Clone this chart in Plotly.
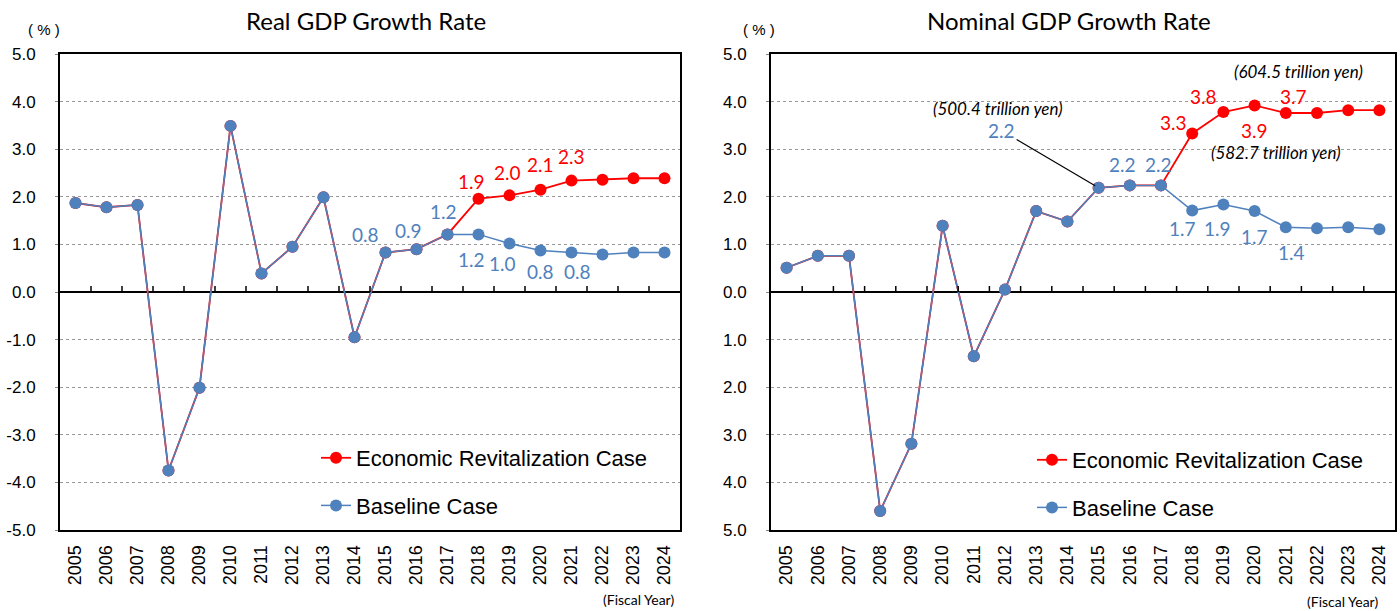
import plotly.graph_objects as go

# ---------------- data ----------------
years = [str(y) for y in range(2005, 2025)]

real_baseline = [1.87, 1.78, 1.83, -3.75, -2.01, 3.49, 0.39, 0.95, 1.99, -0.95,
                 0.83, 0.90, 1.21, 1.21, 1.02, 0.87, 0.83, 0.79, 0.83, 0.83]
real_revital = [1.87, 1.78, 1.83, -3.75, -2.01, 3.49, 0.39, 0.95, 1.99, -0.95,
                0.83, 0.90, 1.21, 1.96, 2.03, 2.15, 2.34, 2.36, 2.39, 2.39]

nominal_baseline = [0.51, 0.76, 0.76, -4.60, -3.19, 1.39, -1.35, 0.05, 1.70, 1.48,
                    2.19, 2.24, 2.24, 1.71, 1.84, 1.70, 1.36, 1.34, 1.36, 1.32]
nominal_revital = [0.51, 0.76, 0.76, -4.60, -3.19, 1.39, -1.35, 0.05, 1.70, 1.48,
                   2.19, 2.24, 2.24, 3.33, 3.78, 3.92, 3.76, 3.76, 3.82, 3.82]

# data labels (year, text)
real_rev_label_years = ["2018", "2019", "2020", "2021"]
real_rev_label_text = ["1.9", "2.0", "2.1", "2.3"]
real_base_label_years = ["2015", "2016", "2017", "2018", "2019", "2020", "2021"]
real_base_label_text = ["0.8", "0.9", "1.2", "1.2", "1.0", "0.8", "0.8"]

nom_rev_label_years = ["2018", "2019", "2020", "2021"]
nom_rev_label_text = ["3.3", "3.8", "3.9", "3.7"]
nom_base_label_years = ["2016", "2017", "2018", "2019", "2020", "2021"]
nom_base_label_text = ["2.2", "2.2", "1.7", "1.9", "1.7", "1.4"]
nom_leader_year = "2015"
nom_leader_text = "2.2"

amount_notes = ["(500.4 trillion yen)", "(604.5 trillion yen)", "(582.7 trillion yen)"]
amount_note_years = ["2015", "2020", "2020"]

y_tickvals = [5, 4, 3, 2, 1, 0, -1, -2, -3, -4, -5]
real_ticktext = ["5.0", "4.0", "3.0", "2.0", "1.0", "0.0", "-1.0", "-2.0", "-3.0", "-4.0", "-5.0"]
nominal_ticktext = ["5.0", "4.0", "3.0", "2.0", "1.0", "0.0", "1.0", "2.0", "3.0", "4.0", "5.0"]

titles = ["Real GDP Growth Rate", "Nominal GDP Growth Rate"]
series_names = ["Economic Revitalization Case", "Baseline Case"]

# ---------------- styles / positions ----------------
RED = "#FF0000"
BLUE = "#4F81BD"
W, H = 1400, 611
ML, MR, MT, MB = 60, 5, 54, 81
PW = W - ML - MR
PH = H - MT - MB

TICK_FONT = "Liberation Sans, Arial, sans-serif"
LABEL_FONT = "Lato, Carlito, Calibri, sans-serif"
LEGEND_FONT = "Liberation Sans, Arial, sans-serif"


def px_x(px):
    return (px - ML) / PW


def px_y(py):
    return (H - MB - py) / PH


d1 = px_x(680)
d2 = px_x(771)

# label pixel offsets (dx, dy) relative to the marker
real_rev_off = [(-7, -17), (-2, -23), (0, -25), (0, -24)]
real_base_off = [(-20, -18), (-8, -19), (-4, -23), (-7, 25), (-7, 20), (0, 21), (6, 19)]
nom_rev_off = [(-19, -11), (-20, -16), (0, 25), (8, -17)]
nom_base_off = [(-7, -21), (-3, -21), (-10, 18), (-6, 24), (0, 25), (6, 25)]
note_off = [(-101, -79), (44, -34), (21, -59)]

fig = go.Figure()

for i, (xa, ya, base, rev, lg) in enumerate([
        ("x", "y", real_baseline, real_revital, "legend"),
        ("x2", "y2", nominal_baseline, nominal_revital, "legend2")]):
    fig.add_trace(go.Scatter(
        x=years, y=rev, xaxis=xa, yaxis=ya, name=series_names[0],
        mode="lines+markers", line=dict(color=RED, width=1.8),
        marker=dict(color=RED, size=12, line=dict(width=0)),
        legend=lg, legendgroup=f"rev{i}", cliponaxis=False))
    fig.add_trace(go.Scatter(
        x=years, y=base, xaxis=xa, yaxis=ya, name=series_names[1],
        mode="lines+markers", line=dict(color=BLUE, width=1.5),
        marker=dict(color=BLUE, size=12, line=dict(width=0)),
        legend=lg, legendgroup=f"base{i}", cliponaxis=False))

annotations = []


def add_labels(xref, yref, yrs, texts, offs, series, color):
    for yr, t, (dx, dy) in zip(yrs, texts, offs):
        idx = years.index(yr)
        annotations.append(dict(
            x=idx, y=series[idx], xref=xref, yref=yref, text=t, showarrow=False,
            xanchor="center", yanchor="middle",
            xshift=dx, yshift=-dy, font=dict(family=LABEL_FONT, size=19, color=color)))


add_labels("x", "y", real_rev_label_years, real_rev_label_text, real_rev_off, real_revital, RED)
add_labels("x", "y", real_base_label_years, real_base_label_text, real_base_off, real_baseline, BLUE)
add_labels("x2", "y2", nom_rev_label_years, nom_rev_label_text, nom_rev_off, nominal_revital, RED)
add_labels("x2", "y2", nom_base_label_years, nom_base_label_text, nom_base_off, nominal_baseline, BLUE)

# leader-line label for 2015 nominal baseline
li = years.index(nom_leader_year)
annotations.append(dict(
    x=li, y=nominal_baseline[li], xref="x2", yref="y2",
    text=nom_leader_text, showarrow=True, arrowhead=0, arrowwidth=1.2, arrowcolor="black",
    ax=-97, ay=-57, standoff=4,
    font=dict(family=LABEL_FONT, size=19, color=BLUE)))

# trillion-yen notes
note_font = dict(family=LABEL_FONT, size=17, color="black", style="italic")
note_series = [nominal_baseline, nominal_revital, nominal_baseline]
for t, yr, s, (dx, dy) in zip(amount_notes, amount_note_years, note_series, note_off):
    idx = years.index(yr)
    annotations.append(dict(x=idx, y=s[idx], xref="x2", yref="y2", text=t, showarrow=False,
                            xanchor="center", yanchor="middle",
                            xshift=dx, yshift=-dy, font=note_font))

# titles and unit labels
for t, cx in zip(titles, [366, 1069]):
    annotations.append(dict(x=px_x(cx), y=px_y(20), xref="paper", yref="paper", text=t,
                            xanchor="center", yanchor="middle",
                            showarrow=False, font=dict(family=LABEL_FONT, size=24, color="black")))
for cx, cy in [(44, 30), (759, 30)]:
    annotations.append(dict(x=px_x(cx), y=px_y(cy), xref="paper", yref="paper", text="( % )",
                            xanchor="center", yanchor="middle",
                            showarrow=False, font=dict(family=LEGEND_FONT, size=15, color="black")))
for cx, cy in [(638, 599), (1342, 601)]:
    annotations.append(dict(x=px_x(cx), y=px_y(cy), xref="paper", yref="paper", text="(Fiscal Year)",
                            xanchor="center", yanchor="middle",
                            showarrow=False, font=dict(family=LABEL_FONT, size=14, color="black")))

# small tick marks along the zero line at the category boundaries
shapes = []
for xr, yr in [("x", "y"), ("x2", "y2")]:
    for k in range(len(years) - 1):
        shapes.append(dict(type="line", xref=xr, yref=yr, ysizemode="pixel", yanchor=0,
                           x0=k + 0.5, x1=k + 0.5, y0=0, y1=6,
                           line=dict(color="black", width=1.5)))

xaxis_common = dict(
    type="category", categoryorder="array", categoryarray=years, range=[-0.5, 19.5],
    tickangle=-90, ticks="", showgrid=False,
    showline=True, mirror=True, linecolor="black", linewidth=2,
    tickfont=dict(family=TICK_FONT, size=18, color="black"), ticklabelstandoff=6)
yaxis_common = dict(
    range=[-5, 5], tickvals=y_tickvals, showgrid=True, gridcolor="#999999", griddash="dot", gridwidth=1,
    zeroline=True, zerolinecolor="black", zerolinewidth=2,
    showline=True, mirror=True, linecolor="black", linewidth=2,
    ticks="outside", ticklen=3, tickcolor="#888888",
    tickfont=dict(family=TICK_FONT, size=17, color="black"), ticklabelstandoff=16)

legend_common = dict(xanchor="left", yanchor="top",
                     font=dict(family=LEGEND_FONT, size=22, color="black"),
                     bgcolor="rgba(0,0,0,0)", tracegroupgap=16, traceorder="grouped")

fig.update_layout(
    width=W, height=H, margin=dict(l=ML, r=MR, t=MT, b=MB, autoexpand=False),
    paper_bgcolor="white", plot_bgcolor="white",
    xaxis=dict(domain=[0, d1], anchor="y", **xaxis_common),
    yaxis=dict(domain=[0, 1], anchor="x", ticktext=real_ticktext, **yaxis_common),
    xaxis2=dict(domain=[d2, 1], anchor="y2", **xaxis_common),
    yaxis2=dict(domain=[0, 1], anchor="x2", ticktext=nominal_ticktext, **yaxis_common),
    legend=dict(x=px_x(316), y=px_y(437), **legend_common),
    legend2=dict(x=px_x(1032), y=px_y(439), **legend_common),
    annotations=annotations,
    shapes=shapes,
    showlegend=True,
)

fig.write_html("out.html", config={"displayModeBar": False},
               post_script="document.body.style.margin='0';document.body.style.padding='0';")
